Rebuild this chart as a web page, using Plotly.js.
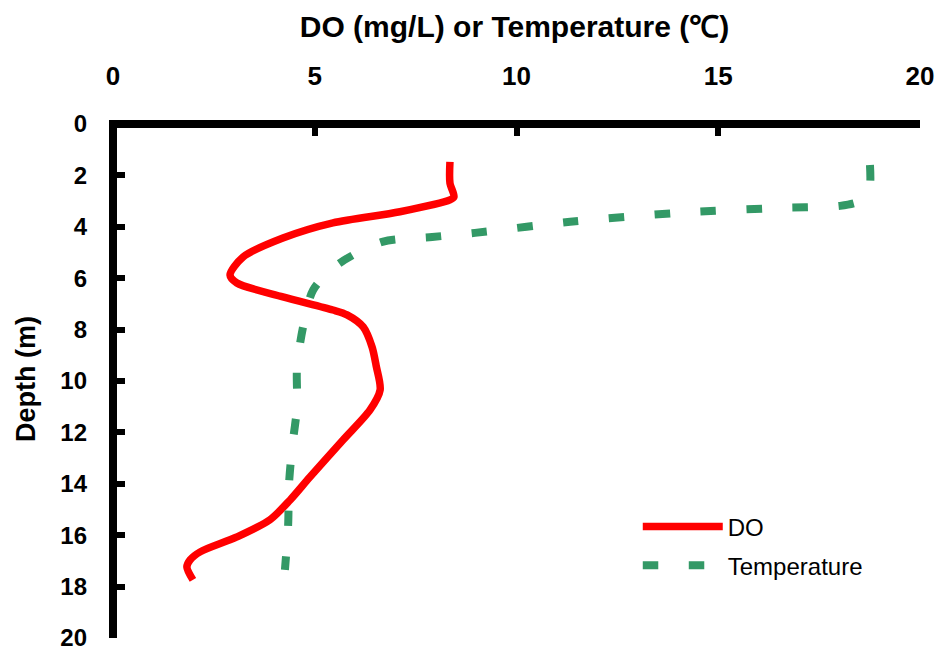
<!DOCTYPE html>
<html>
<head>
<meta charset="utf-8">
<script src="https://cdn.plot.ly/plotly-3.0.1.min.js"></script>
<style>
  html, body { margin: 0; padding: 0; background: #fff; }
  #chart { width: 936px; height: 654px; }
</style>
</head>
<body>
<div id="chart"></div>
<script>
// Dissolved oxygen profile (mg/L) against depth (m)
const doValues = [8.35, 8.35, 8.45, 8.35, 7.11, 5.45, 4.21, 3.22, 2.90, 3.07, 4.21, 5.45, 5.80, 6.20, 6.42, 6.52, 6.62, 6.37, 5.70, 4.88, 4.39, 3.89, 3.07, 2.16, 1.91, 1.83, 1.98];
const doDepth  = [1.48, 2.30, 2.84, 2.96, 3.42, 3.85, 4.44, 5.18, 5.88, 6.19, 6.73, 7.24, 7.43, 7.90, 8.68, 9.40, 10.35, 11.13, 12.30, 13.74, 14.63, 15.40, 16.07, 16.65, 16.96, 17.24, 17.74];

// Water temperature profile (°C) against depth (m)
const tempValues = [18.76, 18.76, 18.66, 18.46, 18.02, 16.53, 14.05, 11.33, 8.97, 7.91, 6.67, 5.55, 4.96, 4.71, 4.56, 4.56, 4.44, 4.36, 4.34, 4.26];
const tempDepth  = [1.60, 2.37, 2.76, 3.04, 3.19, 3.27, 3.46, 3.81, 4.24, 4.40, 4.59, 5.49, 6.46, 7.90, 9.46, 11.01, 12.57, 14.05, 15.60, 17.35];

const xTicks = [0, 5, 10, 15, 20];
const yTicks = [0, 2, 4, 6, 8, 10, 12, 14, 16, 18, 20];

const SANS = 'Liberation Sans, Arial, sans-serif';

const traces = [
  {
    x: doValues, y: doDepth, name: 'DO', mode: 'lines', legend: 'legend',
    line: { color: '#ff0000', width: 7.5, shape: 'spline', smoothing: 0.8 },
    cliponaxis: false
  },
  {
    x: tempValues, y: tempDepth, name: 'Temperature', mode: 'lines', legend: 'legend2',
    line: { color: '#339966', width: 8, dash: '15.5px,30.5px', shape: 'spline', smoothing: 0.8 },
    cliponaxis: false
  }
];

const legendStyle = (y) => ({
  x: 0.652, y: y, xanchor: 'left', yanchor: 'top',
  bgcolor: 'rgba(0,0,0,0)', itemwidth: 80,
  font: { family: SANS, size: 24, color: '#000' }
});

// The axis frame is drawn with the zero lines so that the thick strokes sit
// centred on x = 0 and depth = 0; the ranges reach a little past zero for that.
const layout = {
  width: 936, height: 654,
  margin: { l: 109, r: 16, t: 120, b: 16 },
  paper_bgcolor: '#fff', plot_bgcolor: '#fff',
  showlegend: true,
  legend: legendStyle(0.258),
  legend2: legendStyle(0.183),
  xaxis: {
    side: 'top', range: [-0.1, 20], tickvals: xTicks, ticktext: xTicks.map(String),
    showgrid: false, showline: false,
    zeroline: true, zerolinecolor: '#000', zerolinewidth: 8,
    ticks: 'inside', ticklen: 16, tickwidth: 6, tickcolor: '#000',
    ticklabelstandoff: 29,
    tickfont: { family: SANS, size: 26, color: '#000', weight: 'bold' },
    title: {
      text: 'DO (mg/L) or Temperature (℃)', standoff: 14,
      font: { family: SANS, size: 30, color: '#000', weight: 'bold' }
    }
  },
  yaxis: {
    range: [20, -0.15], tickvals: yTicks, ticktext: yTicks.map(String),
    showgrid: false, showline: false,
    zeroline: true, zerolinecolor: '#000', zerolinewidth: 8,
    ticks: 'inside', ticklen: 16, tickwidth: 6, tickcolor: '#000',
    ticklabelstandoff: 21,
    tickfont: { family: SANS, size: 24, color: '#000', weight: 'bold' },
    title: {
      text: 'Depth (m)', standoff: 16,
      font: { family: SANS, size: 27, color: '#000', weight: 'bold' }
    }
  }
};

Plotly.newPlot('chart', traces, layout, { displayModeBar: false, staticPlot: true });
</script>
</body>
</html>
